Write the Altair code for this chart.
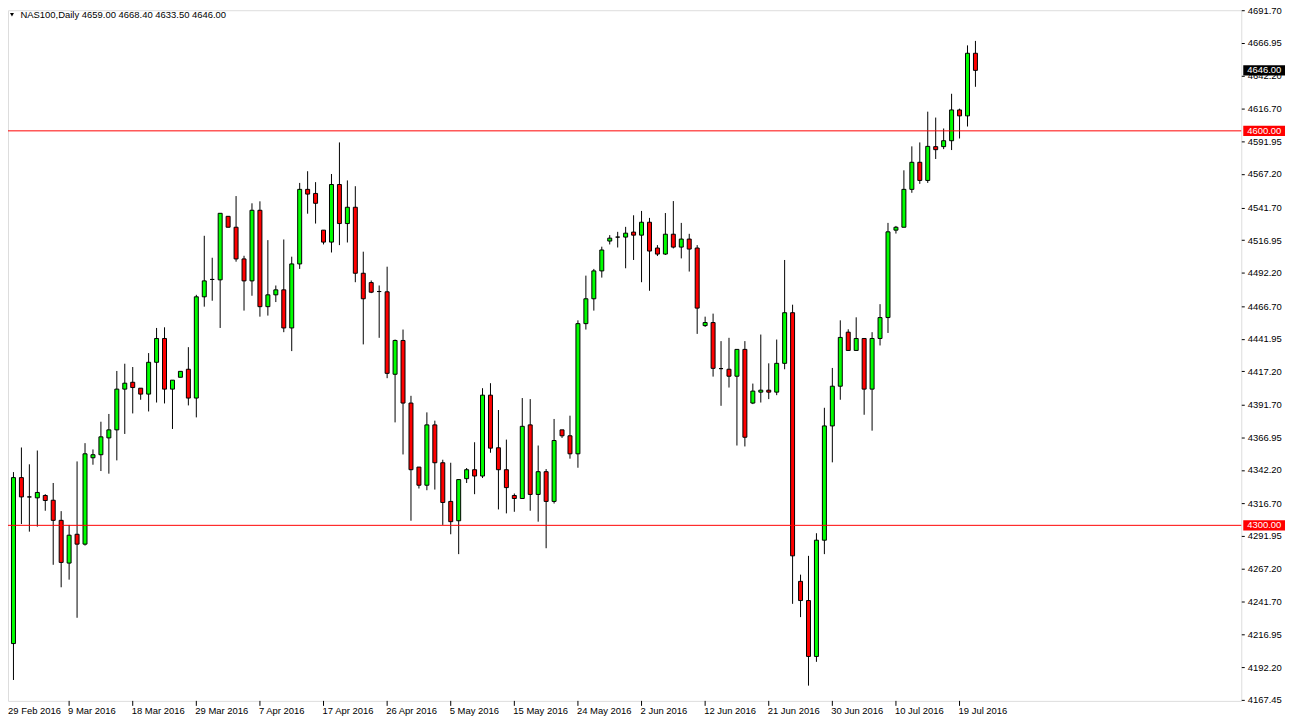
import altair as alt
import pandas as pd

# ---- daily NAS100 candles, 29 Feb 2016 .. 21 Jul 2016 (bar index 0..122) ----
opens = [4223.4, 4210.1, 4336.3, 4321.6, 4320.9, 4322.7, 4319.1, 4303.8, 4271.3, 4293.2,
         4285.7, 4351.4, 4353.7, 4366.5, 4372.6, 4403.6, 4408.8, 4404.3, 4399.8, 4424.0,
         4442.1, 4403.6, 4412.6, 4418.7, 4396.8, 4473.8, 4487.0, 4486.7, 4535.0, 4526.7,
         4502.6, 4485.9, 4539.6, 4466.3, 4475.3, 4479.1, 4450.1, 4498.8, 4555.5, 4552.4,
         4524.5, 4515.4, 4559.2, 4529.5, 4541.9, 4491.7, 4484.6, 4477.8, 4477.6, 4414.9,
         4440.6, 4393.0, 4344.3, 4330.5, 4376.4, 4347.6, 4318.2, 4303.5, 4335.5, 4342.3,
         4337.5, 4399.0, 4359.0, 4342.3, 4322.7, 4320.4, 4376.4, 4323.5, 4340.8, 4318.2,
         4372.6, 4368.1, 4354.4, 4453.4, 4472.3, 4493.5, 4516.2, 4519.2, 4519.2, 4523.0,
         4520.7, 4530.5, 4510.9, 4506.3, 4521.4, 4511.6, 4517.7, 4510.9, 4451.9, 4454.2,
         4419.2, 4418.7, 4413.4, 4433.8, 4393.0, 4401.3, 4402.8, 4401.3, 4423.2, 4461.7,
         4257.4, 4242.8, 4200.3, 4288.7, 4375.6, 4405.8, 4446.9, 4433.0, 4442.1, 4403.6,
         4442.1, 4458.0, 4524.5, 4526.7, 4555.5, 4576.1, 4562.3, 4588.0, 4588.0, 4592.5,
         4615.9, 4611.4, 4659.0]
highs = [4265.5, 4340.5, 4359.2, 4346.4, 4356.9, 4323.7, 4332.2, 4310.8, 4300.3, 4348.6,
         4362.5, 4357.7, 4378.8, 4384.7, 4417.4, 4422.9, 4420.4, 4404.3, 4431.0, 4450.1,
         4450.6, 4410.4, 4417.1, 4435.5, 4475.3, 4520.2, 4503.5, 4537.3, 4535.0, 4550.4,
         4505.0, 4544.9, 4546.4, 4516.9, 4482.4, 4517.4, 4504.3, 4560.4, 4569.3, 4561.0,
         4524.5, 4567.2, 4591.2, 4562.3, 4557.9, 4508.1, 4486.2, 4482.4, 4496.7, 4441.3,
         4448.9, 4398.5, 4344.3, 4385.9, 4379.6, 4349.9, 4347.6, 4334.8, 4343.6, 4363.2,
         4404.3, 4408.1, 4387.7, 4365.2, 4324.2, 4396.8, 4396.0, 4360.7, 4342.8, 4380.9,
         4372.6, 4383.4, 4455.9, 4489.9, 4495.0, 4511.9, 4520.7, 4523.2, 4527.0, 4535.8,
         4539.1, 4533.8, 4513.1, 4537.5, 4546.6, 4530.0, 4521.7, 4513.1, 4458.7, 4461.0,
         4440.1, 4442.6, 4433.8, 4440.1, 4407.8, 4445.1, 4423.2, 4441.3, 4501.8, 4467.8,
         4262.5, 4276.8, 4294.0, 4389.4, 4419.7, 4455.9, 4449.1, 4458.2, 4442.1, 4446.9,
         4468.2, 4530.0, 4527.7, 4570.0, 4588.2, 4591.2, 4614.6, 4610.1, 4601.8, 4628.2,
         4616.9, 4665.0, 4668.4]
lows = [4185.4, 4182.4, 4301.0, 4295.2, 4299.0, 4311.1, 4270.0, 4252.9, 4258.7, 4229.7,
        4284.6, 4346.1, 4341.3, 4339.3, 4349.4, 4369.5, 4385.1, 4395.5, 4386.6, 4393.4,
        4392.7, 4373.3, 4412.6, 4391.2, 4382.1, 4466.3, 4470.8, 4450.1, 4526.7, 4500.5,
        4463.3, 4474.6, 4458.7, 4459.5, 4469.8, 4446.9, 4432.5, 4495.0, 4537.0, 4529.5,
        4513.6, 4507.5, 4513.1, 4515.1, 4484.9, 4437.6, 4476.6, 4442.6, 4411.9, 4378.3,
        4353.9, 4303.5, 4328.0, 4326.7, 4327.2, 4300.3, 4293.2, 4278.1, 4332.2, 4323.7,
        4336.0, 4355.2, 4312.1, 4309.1, 4310.3, 4320.4, 4311.1, 4302.8, 4282.6, 4316.6,
        4366.5, 4350.7, 4343.8, 4448.9, 4463.3, 4488.4, 4513.6, 4511.3, 4495.5, 4501.8,
        4484.9, 4478.4, 4504.8, 4505.6, 4510.6, 4503.0, 4493.0, 4445.6, 4450.9, 4413.1,
        4390.9, 4404.8, 4360.7, 4360.0, 4392.2, 4393.4, 4396.0, 4399.0, 4418.7, 4240.3,
        4230.2, 4178.1, 4196.2, 4278.1, 4347.9, 4395.5, 4433.0, 4433.0, 4384.1, 4372.0,
        4436.8, 4446.3, 4521.9, 4526.7, 4552.9, 4559.7, 4560.4, 4578.6, 4586.1, 4585.4,
        4594.2, 4603.3, 4633.5]
closes = [4211.6, 4336.3, 4321.6, 4321.6, 4325.0, 4318.9, 4303.8, 4271.8, 4292.5, 4285.7,
          4354.4, 4353.7, 4367.3, 4372.6, 4403.6, 4408.1, 4404.8, 4399.8, 4424.0, 4442.1,
          4403.6, 4410.4, 4417.1, 4396.8, 4473.8, 4485.9, 4487.0, 4537.3, 4526.7, 4502.6,
          4485.9, 4539.6, 4466.3, 4475.3, 4479.1, 4450.1, 4498.8, 4555.5, 4551.9, 4544.9,
          4515.4, 4559.2, 4529.5, 4541.9, 4491.7, 4472.3, 4477.3, 4477.8, 4415.6, 4440.6,
          4393.0, 4342.3, 4330.5, 4376.4, 4347.6, 4317.4, 4302.8, 4334.8, 4342.3, 4337.5,
          4399.0, 4358.7, 4342.3, 4328.7, 4320.4, 4375.3, 4323.5, 4340.8, 4318.2, 4364.5,
          4368.1, 4354.4, 4453.4, 4472.3, 4493.5, 4509.4, 4518.4, 4519.2, 4522.2, 4520.7,
          4530.5, 4508.6, 4506.3, 4521.4, 4511.6, 4517.7, 4510.1, 4465.2, 4454.2, 4419.4,
          4419.2, 4413.4, 4433.8, 4367.0, 4402.1, 4402.8, 4401.3, 4423.2, 4461.7, 4276.8,
          4242.8, 4200.3, 4288.7, 4375.6, 4405.8, 4442.9, 4433.0, 4442.1, 4403.6, 4442.1,
          4458.0, 4523.2, 4526.7, 4555.5, 4576.1, 4562.3, 4588.2, 4585.7, 4592.5, 4615.9,
          4611.4, 4659.0, 4646.0]

tick_bars = [0, 8, 16, 24, 32, 40, 48, 56, 64, 72, 80, 88, 96, 104, 112, 120]
tick_labels = ["29 Feb 2016", "9 Mar 2016", "18 Mar 2016", "29 Mar 2016", "7 Apr 2016",
               "17 Apr 2016", "26 Apr 2016", "5 May 2016", "15 May 2016", "24 May 2016",
               "2 Jun 2016", "12 Jun 2016", "21 Jun 2016", "30 Jun 2016", "10 Jul 2016",
               "19 Jul 2016"]
y_ticks = [4691.70, 4666.95, 4642.20, 4616.70, 4591.95, 4567.20, 4541.70, 4516.95,
           4492.20, 4466.70, 4441.95, 4417.20, 4391.70, 4366.95, 4342.20, 4316.70,
           4291.95, 4267.20, 4241.70, 4216.95, 4192.20, 4167.45]
levels = [4600.0, 4300.0]
tag_prices = [4646.0, 4600.0, 4300.0]
tag_colors = ["#000000", "#ff0000", "#ff0000"]
header_text = "NAS100,Daily  4659.00 4668.40 4633.50 4646.00"

bars = pd.DataFrame({"bar": list(range(len(opens))), "open": opens, "high": highs,
                     "low": lows, "close": closes})
ticks_df = pd.DataFrame({"t": tick_bars, "lbl": tick_labels})
levels_df = pd.DataFrame({"level": levels})
tags_df = pd.DataFrame({"price": tag_prices, "bg": tag_colors})
hdr_df = pd.DataFrame({"txt": [header_text]})

W, H = 1241, 695
FONT = "Liberation Sans"
FS = 9.5

xs = alt.Scale(domain=[0.3125, 155.4375], nice=False, zero=False)
ys = alt.Scale(domain=[4166.5, 4691.75], nice=False, zero=False)
yaxis = alt.Axis(orient="right", values=y_ticks, format=".2f", tickSize=3,
                 tickColor="black", labelPadding=3, labelFont=FONT, labelFontSize=FS,
                 labelColor="black", domain=False, grid=False, title=None,
                 labelOverlap=False)

wicks = alt.Chart(bars).mark_rule(color="black", strokeWidth=1, clip=True).encode(
    x=alt.X("bar:Q", scale=xs, axis=None),
    y=alt.Y("low:Q", scale=ys, axis=yaxis),
    y2="high:Q",
)

bodies = alt.Chart(bars).transform_calculate(
    xa="datum.bar - 0.25", xb="datum.bar + 0.25"
).mark_rect(stroke="black", strokeWidth=1, clip=True).encode(
    x=alt.X("xa:Q", scale=xs, axis=None),
    x2="xb:Q",
    y=alt.Y("open:Q", scale=ys, axis=yaxis),
    y2="close:Q",
    fill=alt.condition("datum.close >= datum.open", alt.value("#00ff00"), alt.value("#ff0000")),
)

level_lines = alt.Chart(levels_df).mark_rule(color="#ff0000", strokeWidth=1).encode(
    y=alt.Y("level:Q", scale=ys, axis=yaxis)
)

x_ticks = alt.Chart(ticks_df).mark_rule(color="black", strokeWidth=1).encode(
    x=alt.X("t:Q", scale=xs, axis=None), y=alt.value(H), y2=alt.value(H + 5)
)
x_labels = alt.Chart(ticks_df).transform_calculate(
    tx="max(datum.t, 0.45)"
).mark_text(align="left", baseline="top", font=FONT, fontSize=FS, color="black", dx=-1).encode(
    x=alt.X("tx:Q", scale=xs, axis=None), y=alt.value(H + 5), text="lbl:N"
)

tag_boxes = alt.Chart(tags_df).transform_calculate(
    top="datum.price + 3.9", bot="datum.price - 3.9"
).mark_rect().encode(
    x=alt.value(W + 2), x2=alt.value(W + 44),
    y=alt.Y("top:Q", scale=ys, axis=yaxis), y2="bot:Q",
    fill=alt.Color("bg:N", scale=None),
)
tag_text = alt.Chart(tags_df).transform_calculate(
    lbl="format(datum.price, '.2f')"
).mark_text(align="left", baseline="middle", font=FONT, fontSize=FS, color="white").encode(
    x=alt.value(W + 6), y=alt.Y("price:Q", scale=ys, axis=yaxis), text="lbl:N"
)

tri = alt.Chart(hdr_df).mark_point(shape="triangle-down", filled=True, color="black",
                                   size=16, opacity=1).encode(
    x=alt.value(4), y=alt.value(4.5)
)
hdr = alt.Chart(hdr_df).mark_text(align="left", baseline="middle", font=FONT, fontSize=FS,
                                  color="black").encode(
    x=alt.value(12.5), y=alt.value(5), text="txt:N"
)

chart = alt.layer(
    wicks, bodies, level_lines, x_ticks, x_labels, tag_boxes, tag_text, tri, hdr
).properties(
    width=W, height=H,
    autosize=alt.AutoSizeParams(type="none"),
    padding={"left": 0, "top": 0, "right": 45, "bottom": 15},
).configure_view(stroke="black", strokeWidth=1).configure(background="white")

chart.save("out.html", embed_options={"renderer": "svg", "actions": False})
